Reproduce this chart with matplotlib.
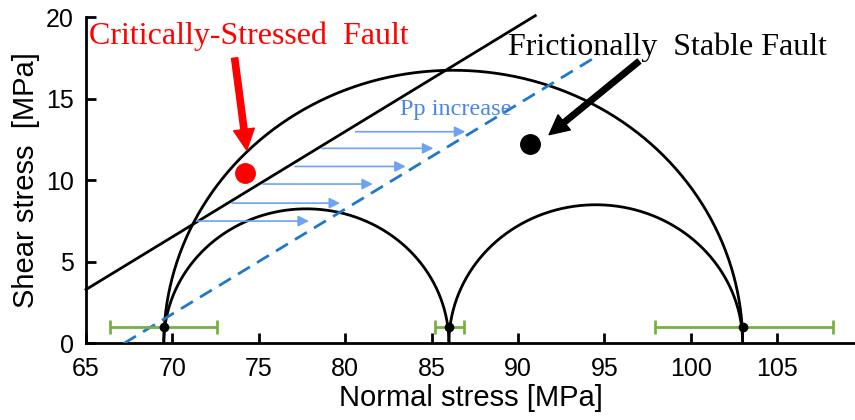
import numpy as np
import matplotlib
matplotlib.use("Agg")
import matplotlib.pyplot as plt

# Mohr circles (sigma3, sigma1) in MPa
circles = [(69.5, 103.0), (69.5, 86.0), (86.0, 103.0)]

# principal stress points with uncertainty bars
pts_x = [69.5, 86.0, 103.0]
pts_y = [1.0, 1.0, 1.0]
err_lo = [3.1, 0.8, 5.05]
err_hi = [3.1, 0.9, 5.2]

# failure envelope (before / after Pp increase)
env_x = [65.0, 91.0]
env_y = [3.3, 20.1]
env2_x = [67.2, 94.7]
env2_y = [0.0, 17.7]

# Pp increase arrows
arr_y = [12.98, 11.96, 10.85, 9.77, 8.6, 7.5]
arr_x0 = [80.6, 78.65, 77.1, 75.25, 73.45, 71.4]
arr_x1 = [86.95, 85.1, 83.5, 81.6, 79.7, 77.9]

# fault points
crit_pt = (74.2, 10.45)
stable_pt = (90.7, 12.2)

plt.rcParams['font.family'] = ['Liberation Sans', 'DejaVu Sans']

fig = plt.figure(figsize=(8.55, 4.2), dpi=100)
ax = fig.add_axes([0.1006, 0.1826, 0.8994, 0.7762])

for s3, s1 in circles:
    c = (s1 + s3) / 2
    r = (s1 - s3) / 2
    th = np.linspace(0, np.pi, 300)
    ax.plot(c + r*np.cos(th), r*np.sin(th), color='black', lw=2, zorder=3)

ax.plot(env_x, env_y, color='black', lw=2, clip_on=False, zorder=3)
ax.plot(env2_x, env2_y, color='#1f78c8', lw=2, dashes=(5, 3), zorder=3)

for y, x0, x1 in zip(arr_y, arr_x0, arr_x1):
    ax.annotate('', xy=(x1, y), xytext=(x0, y),
                arrowprops=dict(arrowstyle='-|>', color='#6ea2f5', lw=1.2,
                                mutation_scale=16, shrinkA=0, shrinkB=0))

ax.errorbar(pts_x, pts_y, xerr=[err_lo, err_hi], fmt='none', ecolor='#77b043',
            elinewidth=2, capsize=5, capthick=2, zorder=4)
ax.plot(pts_x, pts_y, 'o', color='black', ms=6, zorder=5)

ax.plot(*crit_pt, 'o', color='red', ms=14, zorder=5)
ax.plot(*stable_pt, 'o', color='black', ms=14, zorder=5)

ax.annotate('', xy=(74.3, 11.85), xytext=(73.6, 17.5),
            arrowprops=dict(color='red', width=4.5, headwidth=15, headlength=15, shrink=0))
ax.annotate('', xy=(91.8, 12.8), xytext=(97.0, 17.3),
            arrowprops=dict(color='black', width=4, headwidth=14, headlength=14, shrink=0))

ax.text(65.2, 18.35, 'Critically-Stressed  Fault', color='red', fontsize=23,
        family='Liberation Serif')
ax.text(89.4, 17.7, 'Frictionally  Stable Fault', color='black', fontsize=23,
        family='Liberation Serif')
ax.text(86.4, 14.35, 'Pp increase', color='#4a86e8', fontsize=17.5,
        family='Liberation Serif', ha='center', va='center')

ax.set_xlim(65, 109.5)
ax.set_ylim(0, 20)
ax.set_xticks(np.arange(65, 106, 5))
ax.set_yticks(np.arange(0, 21, 5))
ax.tick_params(direction='in', length=7, width=2, labelsize=18)
ax.tick_params(axis='x', pad=10)
ax.tick_params(axis='y', pad=9)
ax.spines['top'].set_visible(False)
ax.spines['right'].set_visible(False)
ax.spines['left'].set_linewidth(2)
ax.spines['bottom'].set_linewidth(2)
ax.set_xlabel('Normal stress [MPa]', fontsize=21, labelpad=2)
ax.set_ylabel('Shear stress  [MPa]', fontsize=21, labelpad=4)

fig.savefig('out.png', dpi=100)
